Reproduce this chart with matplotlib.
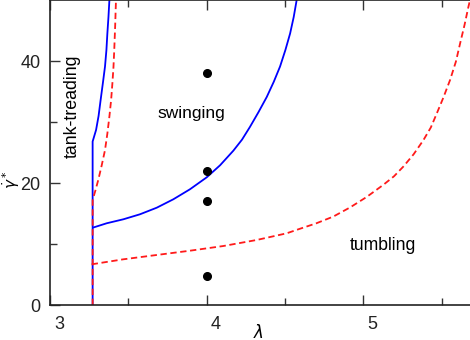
import numpy as np
import matplotlib
matplotlib.use("Agg")
from matplotlib import pyplot as plt
from matplotlib import transforms

plt.rcParams['font.family'] = ['Liberation Sans', 'DejaVu Sans']
plt.rcParams['mathtext.fontset'] = 'dejavusans'

# tank-treading / swinging border (blue, solid)
tt_lam = [3.272, 3.272, 3.294, 3.310, 3.323, 3.338, 3.351, 3.360, 3.366, 3.373, 3.379]
tt_gam = [0.0, 26.8, 28.7, 31.0, 33.6, 36.5, 39.1, 41.8, 44.5, 47.2, 50.0]

# tank-treading / swinging border, other model (red, dashed)
tt2_lam = [3.272, 3.272, 3.290, 3.308, 3.330, 3.351, 3.366, 3.379, 3.390, 3.398, 3.405, 3.410, 3.416, 3.421]
tt2_gam = [0.0, 17.2, 18.8, 20.5, 22.9, 25.4, 28.1, 30.9, 33.6, 36.3, 39.0, 41.8, 45.9, 50.0]

# swinging / tumbling border (blue, solid)
sw_lam = [3.276, 3.362, 3.468, 3.574, 3.681, 3.787, 3.893, 4.0, 4.085, 4.17,
          4.225, 4.276, 4.330, 4.383, 4.428, 4.468, 4.502, 4.532, 4.555, 4.574]
sw_gam = [12.7, 13.4, 14.05, 14.87, 15.95, 17.33, 18.97, 20.93, 22.9, 25.3,
          27.1, 29.2, 31.6, 34.1, 36.6, 39.1, 41.8, 44.5, 47.2, 50.0]

# swinging / tumbling border, other model (red, dashed)
sw2_lam = [3.266, 3.468, 3.681, 3.893, 4.106, 4.319, 4.51, 4.595, 4.70, 4.808,
           4.915, 5.02, 5.127, 5.195, 5.255, 5.32, 5.382, 5.43, 5.468, 5.51,
           5.553, 5.590, 5.617, 5.645, 5.67, 5.685]
sw2_gam = [6.67, 7.49, 8.2, 8.9, 9.67, 10.66, 11.75, 12.5, 13.4, 14.5,
           16.0, 17.7, 19.7, 21.1, 22.7, 24.7, 27.0, 29.1, 31.4, 34.0,
           36.9, 39.9, 42.9, 45.9, 48.9, 50.5]

# simulation points
pt_lam = [4.0, 4.0, 4.0, 4.0]
pt_gam = [38, 22, 17, 4.8]

fig = plt.figure(figsize=(4.7, 3.4), dpi=100)
ax = fig.add_axes([50 / 470, 35 / 340, 420 / 470, 305 / 340])

ax.plot(tt_lam, tt_gam, color='#0000ff', lw=1.3)
ax.plot(sw_lam, sw_gam, color='#0000ff', lw=1.3)
ax.plot(tt2_lam, tt2_gam, color='#ff1a1a', lw=1.3, dashes=(3.5, 2))
ax.plot(sw2_lam, sw2_gam, color='#ff1a1a', lw=1.3, dashes=(3.5, 2))
ax.plot(pt_lam, pt_gam, 'o', color='black', ms=5.5)

ax.set_xlim(3, 5.68)
ax.set_ylim(0, 50)
ax.set_xticks([3, 4, 5])
ax.set_xticks([3.5, 4.5, 5.5], minor=True)
ax.set_yticks([0, 20, 40])
ax.set_yticks([10, 30], minor=True)
ax.tick_params(which='both', direction='in', top=True, right=False,
               labelsize=13, colors='#333333', labelcolor='#222222')
ax.tick_params(which='major', length=7, width=1)
ax.tick_params(which='minor', length=5, width=1)
ax.tick_params(axis='x', pad=8)
ax.tick_params(axis='y', pad=7)

# shift x tick labels a bit to the right like the original
offset = transforms.ScaledTranslation(9 / 100, 0, fig.dpi_scale_trans)
for lab in ax.get_xticklabels():
    lab.set_transform(lab.get_transform() + offset)

for s in ['left', 'bottom', 'top']:
    ax.spines[s].set_color('#222222')
    ax.spines[s].set_linewidth(1.2)
ax.spines['right'].set_visible(False)

fig.text(258 / 470, 1 - 332 / 340, r'$\lambda$', fontsize=12, ha='center', va='center')
fig.text(11 / 470, 1 - 180 / 340, r'$\dot{\gamma}^*$', fontsize=11, ha='center', va='center',
         rotation=90)

ax.text(3.141, 32.6, 'tank-treading', rotation=90, fontsize=12.8, ha='center', va='center')
ax.text(3.903, 31.4, 'swinging', fontsize=12.5, ha='center', va='center')
ax.text(5.125, 9.7, 'tumbling', fontsize=12.7, ha='center', va='center')

fig.savefig('out.png', dpi=100)
